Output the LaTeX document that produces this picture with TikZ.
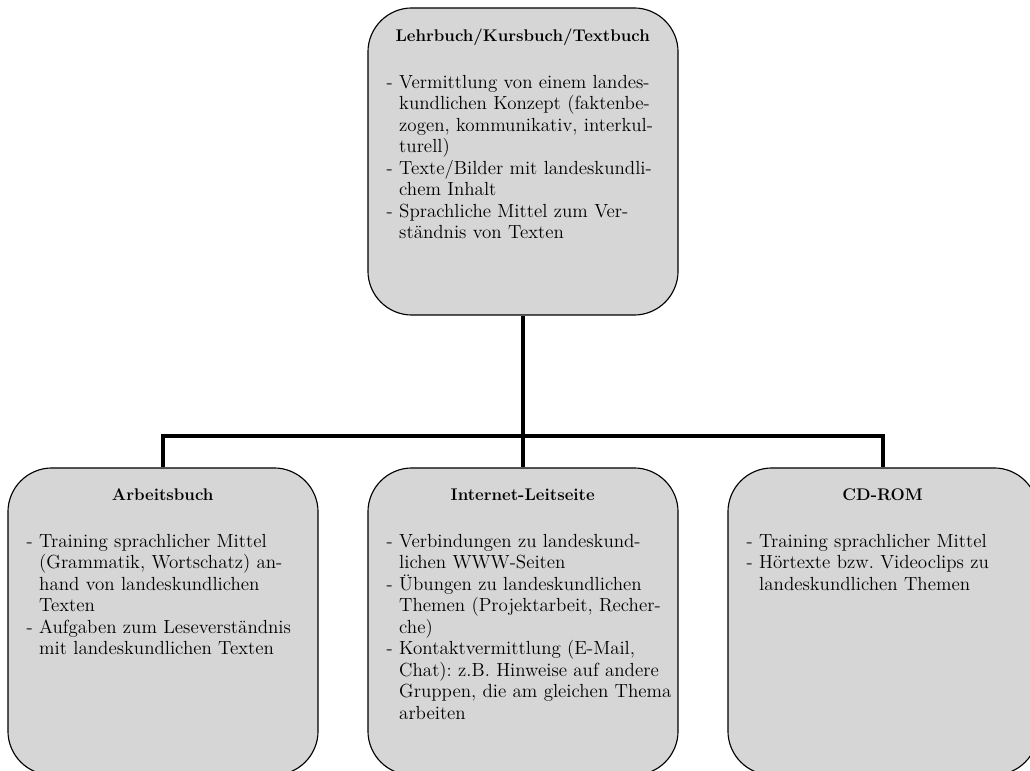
\documentclass[tikz,border=0pt]{standalone}
\usetikzlibrary{positioning}
\definecolor{boxgray}{RGB}{214,214,214}
\newcommand{\hng}{\hphantom{- }}
\newcommand{\boxtitle}[1]{\makebox[68mm][c]{\fontsize{12}{15.3}\selectfont\bfseries #1}\par\vspace{18pt}}
\begin{document}
\begin{tikzpicture}
[
 x=0.025cm, y=0.025cm,
 inner sep=0mm,
 BOX/.style={rectangle, rounded corners=11mm, draw=black, fill=boxgray, line width=0.8pt, minimum width=77.5mm, minimum height=76.75mm},
 TXT/.style={text width=80mm, align=left, font=\fontsize{13.5}{15.3}\selectfont\frenchspacing},
 LINK/.style={line width=2.8pt},
 ],
%
\useasboundingbox (0,0) rectangle (1030,770);
\clip (0,0) rectangle (1030,770);
%
\node [BOX]  (LEHR)  at (523,608.5)  {};
\node [BOX]  (ARB)   at (163,148.5)  {};
\node [BOX]  (NET)   at (523,148.5)  {};
\node [BOX]  (CDR)   at (883,148.5)  {};
%
\node [TXT, below right=5.25mm and 4.75mm of LEHR.north west]  (LEHRTXT)  {\boxtitle{Lehrbuch/Kursbuch/Textbuch}
- Vermittlung von einem landes-\\
\hng kundlichen Konzept (faktenbe-\\
\hng zogen, kommunikativ, interkul-\\
\hng turell)\\
- Texte/Bilder mit landeskundli-\\
\hng chem Inhalt\\
- Sprachliche Mittel zum Ver-\\
\hng ständnis von Texten};
%
\node [TXT, below right=5.25mm and 4.75mm of ARB.north west]  (ARBTXT)  {\boxtitle{Arbeitsbuch}
- Training sprachlicher Mittel\\
\hng (Grammatik, Wortschatz) an-\\
\hng hand von landeskundlichen\\
\hng Texten\\
- Aufgaben zum Leseverständnis\\
\hng mit landeskundlichen Texten};
%
\node [TXT, below right=5.25mm and 4.75mm of NET.north west]  (NETTXT)  {\boxtitle{Internet-Leitseite}
- Verbindungen zu landeskund-\\
\hng lichen WWW-Seiten\\
- Übungen zu landeskundlichen\\
\hng Themen (Projektarbeit, Recher-\\
\hng che)\\
- Kontaktvermittlung (E-Mail,\\
\hng Chat): z.B. Hinweise auf andere\\
\hng Gruppen, die am gleichen Thema\\
\hng arbeiten};
%
\node [TXT, below right=5.25mm and 4.75mm of CDR.north west]  (CDRTXT)  {\boxtitle{CD-ROM}
- Training sprachlicher Mittel\\
- Hörtexte bzw. Videoclips zu\\
\hng landeskundlichen Themen};
%
\path (LEHR.south) ++(0,-120) coordinate (SPLIT);
\draw [line width=2.2pt]  (LEHR.south)  -- (SPLIT) ;
\draw [LINK]  (ARB.north)  |- (SPLIT) -| (CDR.north) ;
\draw [LINK]  (SPLIT)  -- (NET.north) ;
%
\end{tikzpicture}
\end{document}
